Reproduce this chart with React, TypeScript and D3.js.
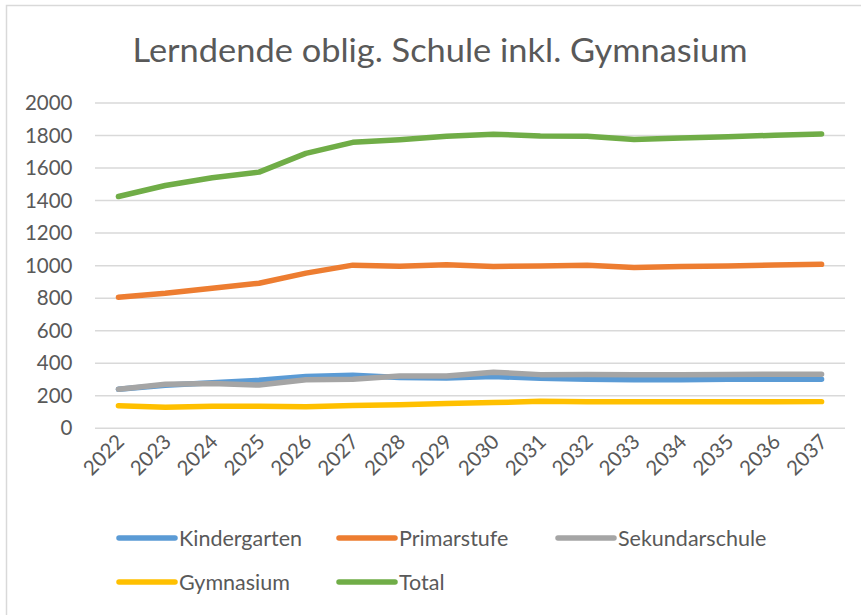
import React from "react";
import * as d3 from "d3";

const years = ["2022","2023","2024","2025","2026","2027","2028","2029","2030","2031","2032","2033","2034","2035","2036","2037"];
const kindergarten = [240, 265, 280, 295, 318, 326, 312, 310, 318, 308, 301, 298, 299, 301, 302, 302];
const primarstufe = [806, 830, 861, 892, 954, 1003, 996, 1006, 995, 998, 1003, 988, 995, 998, 1004, 1008];
const sekundarschule = [240, 271, 275, 266, 298, 302, 322, 322, 345, 330, 331, 329, 330, 331, 333, 333];
const gymnasium = [139, 130, 135, 135, 133, 140, 145, 152, 158, 166, 163, 163, 163, 163, 163, 164];
const total = [1425, 1493, 1540, 1575, 1690, 1758, 1774, 1795, 1808, 1797, 1795, 1776, 1785, 1792, 1802, 1810];
const yTicks = [0, 200, 400, 600, 800, 1000, 1200, 1400, 1600, 1800, 2000];
const seriesNames = ["Kindergarten", "Primarstufe", "Sekundarschule", "Gymnasium", "Total"];
const seriesValues = [kindergarten, primarstufe, sekundarschule, gymnasium, total];
const seriesColors = ["#5B9BD5", "#ED7D31", "#A5A5A5", "#FFC000", "#70AD47"];
const title = "Lerndende oblig. Schule inkl. Gymnasium";

const W = 861, H = 615;
const plot = { left: 95, right: 845, top: 103, bottom: 428.3 };
const FONT = "Lato, 'Open Sans', sans-serif";
const TXT = "#595959";

export default function App() {
  const x = d3.scaleBand<string>().domain(years).range([plot.left, plot.right]);
  const y = d3.scaleLinear().domain([0, 2000]).range([plot.bottom, plot.top]);
  const cx = (d: string) => (x(d) as number) + x.bandwidth() / 2;
  const line = d3.line<number>().x((_, i) => cx(years[i])).y((v) => y(v));

  const legendPos = [
    { lx: 119, ly: 538 },
    { lx: 339, ly: 538 },
    { lx: 558, ly: 538 },
    { lx: 119, ly: 582 },
    { lx: 339, ly: 582 },
  ];

  return (
    <div style={{ position: "absolute", left: 0, top: 0 }}>
      <svg width={W} height={H} style={{ display: "block", background: "#fff" }}>
        <rect x={6.5} y={5.5} width={W + 20} height={H + 20} fill="#fff" stroke="#d9d9d9" strokeWidth={1.5} />
        <text x={440} y={62} textAnchor="middle" fontFamily={FONT} fontSize={32} fill={TXT}
          textLength={615} lengthAdjust="spacingAndGlyphs">{title}</text>
        {yTicks.map((t) => (
          <g key={t}>
            <line x1={plot.left} x2={plot.right} y1={y(t)} y2={y(t)} stroke="#d9d9d9" strokeWidth={1.5} />
            <text x={72.5} y={y(t)} dy="0.35em" textAnchor="end" fontFamily={FONT} fontSize={20.5} fill={TXT}>{t}</text>
          </g>
        ))}
        {years.map((yr) => (
          <text key={yr} transform={`translate(${cx(yr) + 7},${443}) rotate(-45)`} textAnchor="end"
            fontFamily={FONT} fontSize={20.5} fill={TXT}>{yr}</text>
        ))}
        {seriesValues.map((vals, i) => (
          <path key={seriesNames[i]} d={line(vals) || ""} fill="none" stroke={seriesColors[i]}
            strokeWidth={5.5} strokeLinecap="round" strokeLinejoin="round" />
        ))}
        {seriesNames.map((n, i) => (
          <g key={n}>
            <line x1={legendPos[i].lx} x2={legendPos[i].lx + 56} y1={legendPos[i].ly} y2={legendPos[i].ly}
              stroke={seriesColors[i]} strokeWidth={5.5} strokeLinecap="round" />
            <text x={legendPos[i].lx + 60} y={legendPos[i].ly} dy="0.35em" fontFamily={FONT} fontSize={21.5} fill={TXT}>{n}</text>
          </g>
        ))}
      </svg>
    </div>
  );
}
